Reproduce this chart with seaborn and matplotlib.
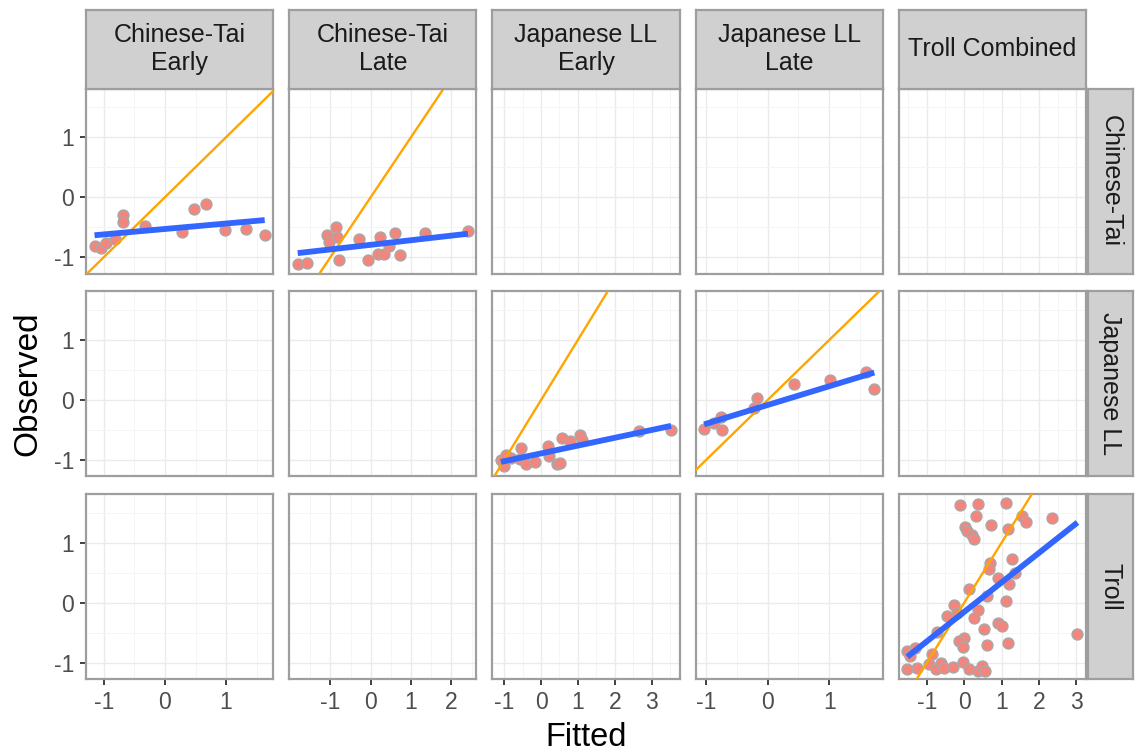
import numpy as np
import pandas as pd
import matplotlib
matplotlib.use("Agg")
import matplotlib.pyplot as plt
import seaborn as sns

# ---------------- data ----------------
col_labels = ["Chinese-Tai\nEarly", "Chinese-Tai\nLate", "Japanese LL\nEarly",
              "Japanese LL\nLate", "Troll Combined"]
row_labels = ["Chinese-Tai", "Japanese LL", "Troll"]

ct_early_fitted = [-1.15, -1.05, -0.96, -0.82, -0.68, -0.68, -0.33, 0.28, 0.48, 0.67, 0.98, 1.33, 1.63]
ct_early_obs = [-0.81, -0.84, -0.77, -0.70, -0.30, -0.41, -0.48, -0.58, -0.20, -0.11, -0.54, -0.53, -0.63]

ct_late_fitted = [-1.81, -1.59, -1.08, -0.86, -0.84, -1.04, -0.79, -0.28, -0.07, 0.17, 0.24, 0.32,
                  0.46, 0.60, 0.72, 1.35, 2.41]
ct_late_obs = [-1.12, -1.09, -0.63, -0.50, -0.67, -0.75, -1.05, -0.70, -1.04, -0.94, -0.67, -0.95,
               -0.81, -0.59, -0.97, -0.59, -0.56]

jl_early_fitted = [-1.09, -0.95, -1.01, -0.81, -0.54, -0.58, -0.40, -0.17, 0.19, 0.21, 0.42, 0.51,
                   0.58, 0.79, 1.06, 1.12, 2.66, 3.53]
jl_early_obs = [-1.00, -0.91, -1.10, -0.96, -0.80, -0.99, -1.07, -1.04, -0.77, -0.94, -1.07, -1.05,
                -0.63, -0.69, -0.58, -0.67, -0.51, -0.50]

jl_late_fitted = [-1.03, -0.76, -0.74, -0.87, -0.18, -0.22, 0.42, 1.01, 1.60, 1.73]
jl_late_obs = [-0.49, -0.29, -0.50, -0.39, 0.03, -0.14, 0.26, 0.34, 0.47, 0.18]

troll_fitted = [-0.11, 0.36, 1.11, 0.31, 1.54, 1.65, 2.34, 0.02, 0.07, 0.22, 0.25, 0.71, 1.16,
                1.29, 0.70, 0.67, 1.36, 0.91, 1.20, 0.13, 0.61, 1.11, -0.27, 0.37, -0.20, -0.45,
                0.27, 0.91, 1.00, 0.52, -0.73, 0.00, -0.13, -0.04, 0.61, 1.18, 3.03,
                -1.52, -1.32, -1.44, -0.87, -1.52, -1.26, -0.94, -0.76, -0.61, -0.53, -0.31,
                -0.04, 0.13, 0.36, 0.49, 0.55]
troll_obs = [1.63, 1.64, 1.67, 1.45, 1.45, 1.34, 1.41, 1.27, 1.19, 1.13, 1.06, 1.30, 1.23,
             0.73, 0.66, 0.57, 0.49, 0.42, 0.32, 0.23, 0.12, 0.03, -0.04, -0.12, -0.17, -0.22,
             -0.26, -0.33, -0.38, -0.43, -0.48, -0.58, -0.63, -0.74, -0.71, -0.67, -0.52,
             -0.80, -0.76, -0.88, -0.85, -1.10, -1.09, -1.02, -1.10, -1.00, -1.09, -1.07,
             -0.99, -1.10, -1.13, -1.05, -1.13]

col_ticks = [[-1, 0, 1], [-1, 0, 1, 2], [-1, 0, 1, 2, 3], [-1, 0, 1], [-1, 0, 1, 2, 3]]
y_ticks = [-1, 0, 1]

panels = [
    (0, 0, ct_early_fitted, ct_early_obs),
    (0, 1, ct_late_fitted, ct_late_obs),
    (1, 2, jl_early_fitted, jl_early_obs),
    (1, 3, jl_late_fitted, jl_late_obs),
    (2, 4, troll_fitted, troll_obs),
]
records = []
for r, c, fx, oy in panels:
    for a, b in zip(fx, oy):
        records.append({"row": r, "col": c, "Fitted": a, "Observed": b})
df = pd.DataFrame(records)

# ---------------- style ----------------
sns.set_theme(style="white")
plt.rcParams['font.family'] = ['Liberation Sans', 'DejaVu Sans']
plt.rcParams['axes.unicode_minus'] = False

W, H = 1135, 756
fig = plt.figure(figsize=(W / 100, H / 100), dpi=100)


def px_axes(x, y, w, h):
    return fig.add_axes([x / W, 1 - (y + h) / H, w / W, h / H])


# limits (ggplot-like 5% expansion)
ymin, ymax = df["Observed"].min(), df["Observed"].max()
ypad = 0.05 * (ymax - ymin)
ylim = (ymin - ypad, ymax + ypad)
xlims = []
for c in range(5):
    s = df.loc[df["col"] == c, "Fitted"]
    lo, hi = s.min(), s.max()
    pad = 0.05 * (hi - lo)
    xlims.append((lo - pad, hi + pad))


def minor_of(ticks, lim):
    m = np.arange(ticks[0] - 0.5, ticks[-1] + 1.0, 1.0)
    return [v for v in m if lim[0] <= v <= lim[1]]


PL, PW, PSTEP = 86, 187.2, 203.2
PT, PH, RSTEP = 88.5, 185, 202.8

border_col = "#9E9E9E"
strip_fill = "#D0D0D0"

for r in range(3):
    for c in range(5):
        ax = px_axes(PL + c * PSTEP, PT + r * RSTEP, PW, PH)
        ax.set_facecolor("white")
        sub = df[(df["row"] == r) & (df["col"] == c)]
        if len(sub):
            sns.scatterplot(data=sub, x="Fitted", y="Observed", ax=ax, color="#F4857C",
                            edgecolor="#A8A8A8", linewidth=1.0, s=62, zorder=3, legend=False)
            ax.axline((0, 0), slope=1, color="#FFA500", lw=1.7, zorder=4)
            sns.regplot(data=sub, x="Fitted", y="Observed", ax=ax, scatter=False, ci=None,
                        truncate=True, line_kws=dict(color="#3366FF", lw=4.2, zorder=5,
                                                     solid_capstyle="butt"))
        ax.set_xlim(xlims[c])
        ax.set_ylim(ylim)
        ax.set_xlabel("")
        ax.set_ylabel("")
        ax.set_xticks(col_ticks[c])
        ax.set_yticks(y_ticks)
        ax.set_xticks(minor_of(col_ticks[c], xlims[c]), minor=True)
        ax.set_yticks(minor_of(y_ticks, ylim), minor=True)
        ax.grid(True, which="major", color="#EBEBEB", lw=1.0, zorder=0)
        ax.grid(True, which="minor", color="#F4F4F4", lw=0.6, zorder=0)
        ax.set_axisbelow(True)
        for sp in ax.spines.values():
            sp.set_color(border_col)
            sp.set_linewidth(1.6)
            sp.set_visible(True)
        ax.tick_params(which="minor", length=0)
        if r == 2:
            ax.tick_params(axis="x", which="major", length=4.5, width=1.3, color="#333333",
                           labelsize=16.5, labelcolor="#4D4D4D", pad=4, bottom=True)
            ax.set_xticklabels([str(t) for t in col_ticks[c]])
        else:
            ax.tick_params(axis="x", which="major", length=0, labelbottom=False)
        if c == 0:
            ax.tick_params(axis="y", which="major", length=4.5, width=1.3, color="#333333",
                           labelsize=16.5, labelcolor="#4D4D4D", pad=4, left=True)
            ax.set_yticklabels([str(t) for t in y_ticks])
        else:
            ax.tick_params(axis="y", which="major", length=0, labelleft=False)

# top strips
for c in range(5):
    sax = px_axes(PL + c * PSTEP, 9.5, PW, 79)
    sax.set_facecolor(strip_fill)
    sax.set_xticks([])
    sax.set_yticks([])
    for sp in sax.spines.values():
        sp.set_color(border_col)
        sp.set_linewidth(1.6)
        sp.set_visible(True)
    sax.text(0.5, 0.5, col_labels[c], ha="center", va="center", fontsize=18,
             color="#1A1A1A", linespacing=1.2, transform=sax.transAxes)

# right strips
for r in range(3):
    sax = px_axes(1088, PT + r * RSTEP, 45, PH)
    sax.set_facecolor(strip_fill)
    sax.set_xticks([])
    sax.set_yticks([])
    for sp in sax.spines.values():
        sp.set_color(border_col)
        sp.set_linewidth(1.6)
        sp.set_visible(True)
    sax.text(0.5, 0.5, row_labels[r], ha="center", va="center", fontsize=18,
             color="#1A1A1A", rotation=-90, transform=sax.transAxes)

fig.text(28 / W, 1 - 384 / H, "Observed", rotation=90, ha="center", va="center",
         fontsize=24, color="black")
fig.text(586 / W, 1 - 737 / H, "Fitted", ha="center", va="center",
         fontsize=23.5, color="black")

fig.savefig("out.png", dpi=100)
